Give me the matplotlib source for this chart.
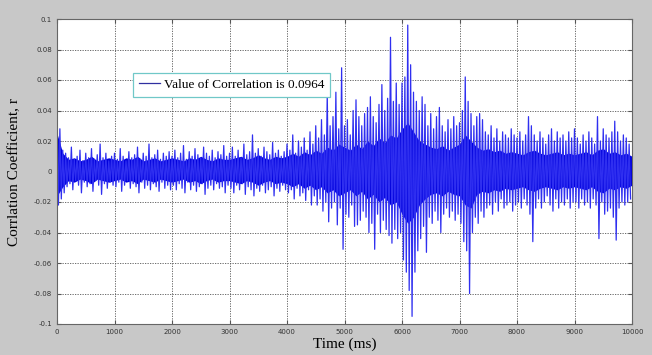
import matplotlib
matplotlib.use("Agg")
import matplotlib.pyplot as plt
import numpy as np

# Estimated upper / lower excursions per 50 ms bin (in units of 0.001)
hi_vals = [
    38, 28, 14, 12, 9, 16, 8, 10, 14, 7, 12, 9, 15, 8, 11, 18, 9, 12, 7, 10,
    12, 8, 15, 10, 7, 13, 9, 11, 16, 8, 12, 10, 18, 9, 11, 14, 8, 12, 10, 13,
    10, 14, 9, 12, 17, 8, 13, 10, 15, 11, 9, 16, 12, 10, 14, 9, 13, 11, 17, 10,
    12, 16, 10, 14, 9, 18, 11, 13, 24, 12, 15, 10, 16, 13, 11, 19, 12, 14, 10, 13,
    18, 14, 24, 12, 20, 16, 22, 14, 26, 18, 30, 22, 34, 24, 51, 30, 36, 52, 28, 68,
    30, 34, 24, 40, 47, 36, 30, 38, 42, 49, 36, 32, 44, 57, 40, 48, 88, 46, 58, 44,
    58, 62, 96, 70, 52, 46, 40, 49, 44, 30, 38, 28, 36, 42, 30, 26, 34, 28, 36, 30,
    32, 40, 62, 46, 38, 30, 36, 38, 34, 26, 24, 30, 22, 28, 20, 26, 24, 22, 28, 24,
    22, 26, 20, 24, 36, 30, 24, 20, 26, 22, 18, 24, 28, 20, 26, 22, 24, 20, 26, 22,
    28, 22, 18, 24, 20, 26, 22, 18, 36, 20, 28, 24, 22, 26, 33, 26, 20, 24, 22, 18,
]
lo_vals = [
    -22, -18, -14, -10, -8, -12, -6, -9, -14, -7, -10, -8, -13, -6, -9, -15, -8, -11, -7, -9,
    -10, -7, -13, -9, -6, -11, -8, -10, -14, -7, -11, -9, -12, -8, -10, -13, -7, -11, -9, -12,
    -9, -12, -8, -11, -14, -7, -12, -9, -13, -10, -8, -15, -11, -9, -12, -8, -11, -10, -14, -9,
    -11, -14, -9, -12, -8, -15, -10, -12, -16, -11, -13, -9, -14, -12, -10, -16, -11, -13, -9, -12,
    -14, -12, -18, -11, -16, -14, -19, -12, -22, -16, -22, -18, -26, -20, -33, -24, -20, -35, -24, -51,
    -28, -30, -22, -36, -35, -32, -26, -30, -40, -34, -51, -28, -40, -32, -38, -42, -47, -38, -44, -40,
    -58, -66, -78, -95, -66, -52, -44, -36, -53, -30, -34, -26, -32, -40, -28, -24, -30, -26, -32, -28,
    -34, -46, -52, -80, -40, -30, -34, -26, -30, -24, -22, -28, -20, -26, -18, -24, -22, -20, -26, -22,
    -20, -24, -18, -22, -28, -46, -24, -18, -24, -20, -16, -22, -26, -18, -24, -20, -22, -18, -24, -20,
    -20, -24, -18, -22, -20, -24, -18, -22, -44, -20, -28, -26, -24, -30, -45, -24, -20, -22, -20, -18,
]
# Dense core band of the signal, every 100 ms (in units of 0.001)
core_hi = [
    25, 12, 8, 9, 7, 8, 10, 7, 8, 9,
    8, 7, 9, 8, 10, 7, 8, 9, 7, 8,
    9, 8, 7, 9, 8, 10, 8, 7, 9, 8,
    8, 9, 10, 8, 9, 11, 9, 8, 10, 9,
    10, 12, 10, 13, 11, 14, 12, 16, 14, 18,
    16, 14, 18, 15, 20, 17, 22, 19, 24, 22,
    28, 32, 26, 20, 18, 16, 15, 17, 14, 16,
    18, 24, 20, 16, 14, 15, 13, 14, 12, 13,
    12, 11, 13, 14, 12, 11, 12, 13, 11, 12,
    11, 12, 13, 11, 14, 15, 12, 13, 11, 12,
    10,
]
core_lo = [
    -16, -10, -6, -7, -5, -6, -8, -5, -6, -7,
    -6, -5, -7, -6, -8, -5, -6, -7, -5, -6,
    -7, -6, -5, -7, -6, -8, -6, -5, -7, -6,
    -6, -7, -8, -6, -7, -9, -7, -6, -8, -7,
    -8, -10, -8, -11, -9, -12, -10, -14, -12, -16,
    -14, -12, -16, -13, -18, -15, -20, -17, -22, -20,
    -28, -34, -30, -22, -18, -15, -14, -16, -13, -15,
    -16, -22, -24, -15, -13, -14, -12, -13, -11, -12,
    -11, -10, -12, -13, -11, -10, -11, -12, -10, -11,
    -10, -11, -12, -10, -13, -14, -11, -12, -10, -11,
    -9,
]
bin_ms = 50
core_ms = 100
xticks = [0, 1000, 2000, 3000, 4000, 5000, 6000, 7000, 8000, 9000, 10000]
yticks = [-0.1, -0.08, -0.06, -0.04, -0.02, 0, 0.02, 0.04, 0.06, 0.08, 0.1]
ytick_labels = ["-0.1", "-0.08", "-0.06", "-0.04", "-0.02", "0", "0.02", "0.04", "0.06", "0.08", "0.1"]

t = []
r = []
for i, (h, l) in enumerate(zip(hi_vals, lo_vals)):
    t.append(i * bin_ms)
    r.append(h / 1000.0)
    t.append(i * bin_ms + bin_ms / 2)
    r.append(l / 1000.0)
tc = [i * core_ms for i in range(len(core_hi))]

fig = plt.figure(figsize=(6.52, 3.55), dpi=100, facecolor="#c8c8c8")
ax = fig.add_axes([57 / 652, 31 / 355, 575 / 652, 305 / 355])
ax.set_facecolor("white")
ax.grid(True, linestyle=(0, (1.5, 1.5)), color="#555555", lw=0.6)
ax.set_axisbelow(True)
ax.fill_between(tc, [v / 1000.0 for v in core_lo], [v / 1000.0 for v in core_hi],
                color="#0000dd", lw=0)
ax.plot(t, r, color="#2f2ff0", lw=0.9, label="Value of Correlation is 0.0964")
ax.set_xlim(0, 10000)
ax.set_ylim(-0.1, 0.1)
ax.set_xticks(xticks)
ax.set_xticklabels([str(x) for x in xticks])
ax.set_yticks(yticks)
ax.set_yticklabels(ytick_labels)
ax.tick_params(direction="in", length=3, labelsize=5, top=True, right=True,
               color="#555555", labelcolor="#333333")
for s in ax.spines.values():
    s.set_color("#666666")
    s.set_linewidth(0.8)

ax.set_xlabel("Time (ms)", family="Liberation Serif", fontsize=11, labelpad=2)
ax.set_ylabel("Corrlation Coefficient, r", family="Liberation Serif", fontsize=11, labelpad=9)

leg = ax.legend(loc="upper left", bbox_to_anchor=(0.12, 0.845),
                prop={"family": "Liberation Serif", "size": 9.5},
                fancybox=False, edgecolor="#70c8c8", framealpha=1, handlelength=1.6,
                handletextpad=0.3, borderpad=0.45)
leg.get_frame().set_linewidth(0.9)
for line in leg.get_lines():
    line.set_color("#3030a0")
    line.set_linewidth(0.9)

fig.savefig("out.png", dpi=100, facecolor=fig.get_facecolor())
